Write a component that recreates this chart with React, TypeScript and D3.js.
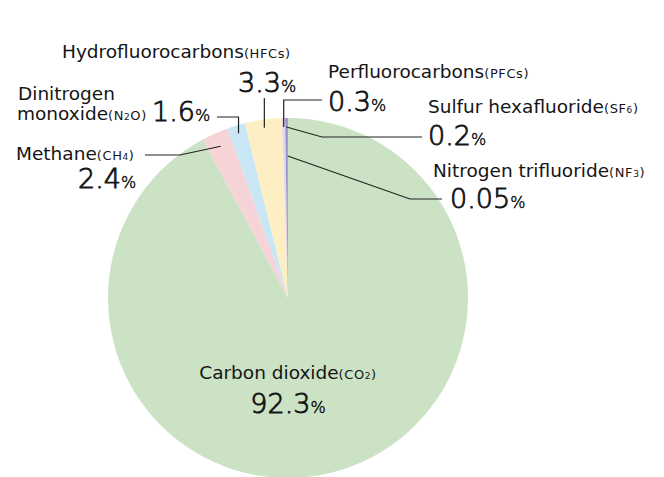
import React from "react";
import * as d3 from "d3";

// greenhouse gas shares, clockwise from 12 o'clock
const gases = ["Carbon dioxide", "Methane", "Dinitrogen monoxide", "Hydrofluorocarbons", "Perfluorocarbons", "Sulfur hexafluoride", "Nitrogen trifluoride"];
const formulas = [["CO", "2", ""], ["CH", "4", ""], ["N", "2", "O"], ["HFCs", "", ""], ["PFCs", "", ""], ["SF", "6", ""], ["NF", "3", ""]];
const shares = [92.3, 2.4, 1.6, 3.3, 0.3, 0.2, 0.05];
const shareLabels = ["92.3", "2.4", "1.6", "3.3", "0.3", "0.2", "0.05"];

const colors = ["#cbe3c4", "#f6d3d6", "#c9e6f5", "#fdefc3", "#e8d5ea", "#8f93c9", "#7f86b8"];

// where each label sits and how its leader line bends
const layout: Record<string, any> = {
  "Carbon dioxide": { nx: 288, ny: 379, vx: 288, vy: 413, anchor: "middle" },
  Methane: { nx: 16, ny: 160, vx: 78, vy: 188, r: 166, bends: [[180, 155], [145, 155]] },
  "Dinitrogen monoxide": { nx: 17, ny: 100, vx: 152, vy: 121, r: 172, up: 117, bends: [[217, 117]] },
  Hydrofluorocarbons: { nx: 62, ny: 58, vx: 238, vy: 92, r: 172, up: 98, bends: [] },
  Perfluorocarbons: { nx: 328, ny: 78, vx: 328, vy: 111, r: 171, up: 100, bends: [[322, 100]] },
  "Sulfur hexafluoride": { nx: 428, ny: 113, vx: 428, vy: 145, r: 171, bends: [[322, 137], [422, 137]] },
  "Nitrogen trifluoride": { nx: 433, ny: 177, vx: 450, vy: 208, r: 142, bends: [[410, 199], [442, 199]] },
};

const W = 664;
const H = 477;
const cx = 288;
const cy = 298;
const radius = 180;
const font = "'DejaVu Sans', sans-serif";
const ink = "#151515";

const Formula = ({ f }: { f: string[] }) => (
  <tspan fontSize={13} letterSpacing={0.6}>
    (<tspan>{f[0]}</tspan>
    {f[1] && <tspan fontSize={9}>{f[1]}</tspan>}
    {f[2] && <tspan>{f[2]}</tspan>})
  </tspan>
);

export default function App() {
  const pie = d3.pie<number>().sort(null).value((d) => d).startAngle(0).endAngle(2 * Math.PI);
  const arcs = pie(shares);
  const arc = d3.arc<d3.PieArcDatum<number>>().innerRadius(0).outerRadius(radius);

  const polar = (a: number, r: number): [number, number] => [r * Math.sin(a), -r * Math.cos(a)];

  return (
    <svg width={W} height={H} style={{ position: "absolute", left: 0, top: 0, background: "#fff" }} fontFamily={font}>
      <g transform={`translate(${cx},${cy})`}>
        {arcs.map((d, i) => (
          <path key={gases[i]} d={arc(d) || ""} fill={colors[i]} />
        ))}
      </g>
      {arcs.map((d, i) => {
        const L = layout[gases[i]];
        if (L.r === undefined) return null;
        const mid = (d.startAngle + d.endAngle) / 2;
        const [ax, ay] = polar(mid, L.r);
        const pts: [number, number][] = [[cx + ax, cy + ay]];
        if (L.up !== undefined) pts.push([cx + ax, L.up]);
        L.bends.forEach((b: number[]) => pts.push([b[0], b[1]]));
        return (
          <path key={"l" + i} d={d3.line()(pts) || ""} fill="none" stroke="#222" strokeWidth={1.2} />
        );
      })}
      {gases.map((g, i) => {
        const L = layout[g];
        const isN2O = g === "Dinitrogen monoxide";
        return (
          <g key={"t" + i} fill={ink}>
            {isN2O ? (
              <>
                <text x={L.nx + 1} y={L.ny} fontSize={18.5}>Dinitrogen</text>
                <text x={L.nx} y={L.ny + 20} fontSize={18.5}>
                  monoxide<Formula f={formulas[i]} />
                </text>
              </>
            ) : (
              <text x={L.nx} y={L.ny} fontSize={18.5} textAnchor={L.anchor || "start"}>
                {g}
                <Formula f={formulas[i]} />
              </text>
            )}
            <text x={L.vx} y={L.vy} fontSize={27} fontWeight={200} stroke={ink} strokeWidth={0.9} textAnchor={L.anchor || "start"}>
              {shareLabels[i]}
              <tspan fontSize={16} strokeWidth={0.5}>%</tspan>
            </text>
          </g>
        );
      })}
    </svg>
  );
}
